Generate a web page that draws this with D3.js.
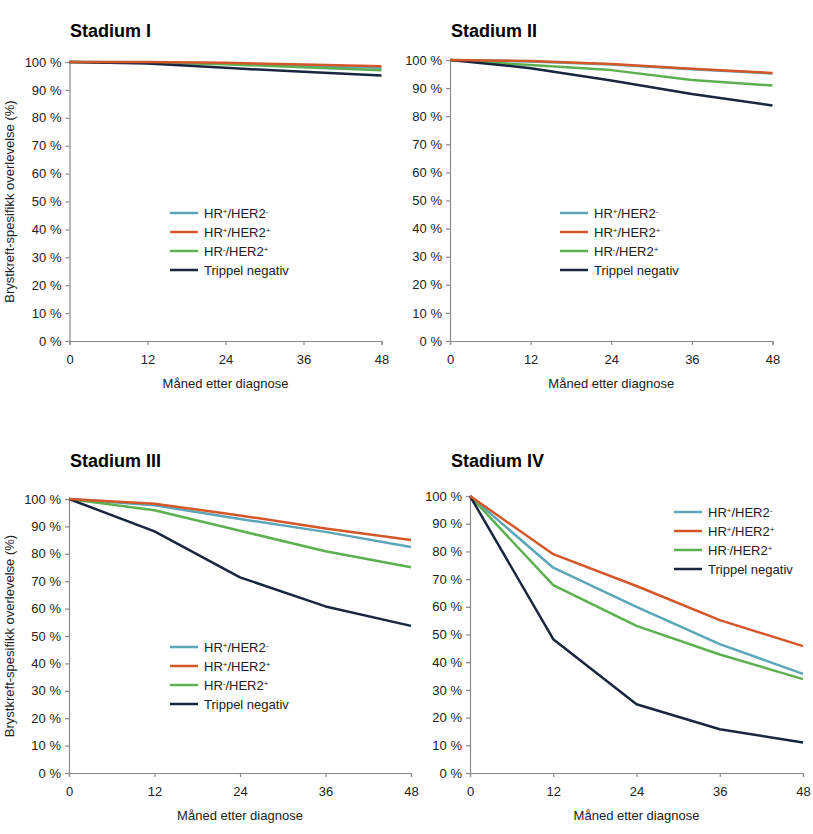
<!DOCTYPE html>
<html><head><meta charset="utf-8">
<script src="https://cdn.jsdelivr.net/npm/d3@7"></script>
<style>
body{margin:0;background:#fff;}
svg{display:block;font-family:"Liberation Sans",Arial,Helvetica,sans-serif;}
</style></head>
<body><svg id="c" width="813" height="834"></svg>
<script>
// ---- data ----
const months = [0, 12, 24, 36, 48];
const xTicks = [0, 12, 24, 36, 48];
const yTicks = [0, 10, 20, 30, 40, 50, 60, 70, 80, 90, 100];
const seriesLabels = ["HR+/HER2-", "HR+/HER2+", "HR-/HER2+", "Trippel negativ"];
const seriesColors = ["#5ba6b9", "#d4572a", "#5cb050", "#1a2540"];
const panelTitles = ["Stadium I", "Stadium II", "Stadium III", "Stadium IV"];
const xAxisTitle = "Måned etter diagnose";
const yAxisTitle = "Brystkreft-spesifikk overlevelse (%)";

// values per series, order: HR+/HER2-, HR+/HER2+, HR-/HER2+, Trippel negativ
const stadiumI = [
  [100, 99.9, 99.4, 98.6, 97.9],
  [100, 100, 99.7, 99.1, 98.5],
  [100, 99.8, 99.2, 98.1, 97.0],
  [100, 99.5, 97.9, 96.5, 95.2]
];
const stadiumII = [
  [100, 99.5, 98.4, 96.7, 95.2],
  [100, 99.6, 98.6, 96.9, 95.4],
  [100, 98.2, 96.4, 92.9, 90.9],
  [100, 97.1, 92.7, 87.9, 83.8]
];
const stadiumIII = [
  [100, 97.7, 92.7, 88.0, 82.5],
  [100, 98.3, 94.0, 89.2, 85.0],
  [100, 95.9, 88.4, 80.9, 75.1],
  [100, 88.2, 71.4, 60.8, 53.7]
];
const stadiumIV = [
  [100, 74.1, 60.0, 46.5, 35.8],
  [100, 79.0, 67.5, 55.2, 45.8],
  [100, 67.8, 53.1, 42.8, 33.9],
  [100, 48.3, 24.8, 15.8, 11.0]
];
const panelData = [stadiumI, stadiumII, stadiumIII, stadiumIV];

// ---- layout ----
const panels = [
  {x0: 69.5, x1: 381.5, yTop: 62, yBot: 341, tx: 70, ty: 37, yTitle: true, lx: 170, ly: 213},
  {x0: 450, x1: 772.5, yTop: 60, yBot: 341, tx: 451, ty: 36.5, yTitle: false, lx: 560, ly: 213},
  {x0: 69, x1: 411, yTop: 499, yBot: 773, tx: 70, ty: 466.5, yTitle: true, lx: 170, ly: 647},
  {x0: 470, x1: 803, yTop: 496, yBot: 773, tx: 451, ty: 466.5, yTitle: false, lx: 674, ly: 512}
];
const drawOrder = [0, 2, 3, 1];

const svg = d3.select("#c");
const fs = 13;

function writeLabel(sel, label) {
  if (label === "Trippel negativ") { sel.text(label); return; }
  const parts = label.split(/([+-])/).filter(s => s.length);
  parts.forEach(p => {
    if (p === "+" || p === "-") {
      sel.append("tspan").attr("baseline-shift", "super").attr("font-size", 8).text(p);
    } else {
      sel.append("tspan").text(p);
    }
  });
}

panels.forEach((p, i) => {
  const g = svg.append("g");
  const x = d3.scaleLinear().domain([0, 48]).range([p.x0, p.x1]);
  const y = d3.scaleLinear().domain([0, 100]).range([p.yBot, p.yTop]);

  g.append("text").attr("x", p.tx).attr("y", p.ty)
    .attr("font-size", 18).attr("font-weight", "bold").attr("fill", "#000")
    .text(panelTitles[i]);

  const xa = g.append("g").attr("transform", `translate(0,${p.yBot})`)
    .call(d3.axisBottom(x).tickValues(xTicks).tickSize(4).tickPadding(10).tickFormat(d3.format("d")));
  const ya = g.append("g").attr("transform", `translate(${p.x0},0)`)
    .call(d3.axisLeft(y).tickValues(yTicks).tickSize(4).tickPadding(4).tickFormat(d => d + " %"));
  [xa, ya].forEach(a => {
    a.select(".domain").attr("stroke", "#8a8a8a").attr("stroke-width", 1.2);
    a.selectAll(".tick line").attr("stroke", "#8a8a8a").attr("stroke-width", 1.2);
    a.selectAll(".tick text").attr("font-size", fs).attr("fill", "#222")
      .attr("font-family", '"Liberation Sans",Arial,sans-serif');
  });

  g.append("text").attr("x", (p.x0 + p.x1) / 2).attr("y", p.yBot + 47)
    .attr("text-anchor", "middle").attr("font-size", fs).attr("fill", "#222").text(xAxisTitle);

  if (p.yTitle) {
    g.append("text").attr("transform", `translate(14,${(p.yTop + p.yBot) / 2}) rotate(-90)`)
      .attr("text-anchor", "middle").attr("font-size", fs).attr("fill", "#222").text(yAxisTitle);
  }

  const line = d3.line().x((d, k) => x(months[k])).y(d => y(d));
  drawOrder.forEach(s => {
    g.append("path").datum(panelData[i][s]).attr("d", line)
      .attr("fill", "none").attr("stroke", seriesColors[s]).attr("stroke-width", 2.5)
      .attr("stroke-linejoin", "round");
  });

  const lg = g.append("g").attr("transform", `translate(${p.lx},${p.ly})`);
  seriesLabels.forEach((lab, s) => {
    const row = lg.append("g").attr("transform", `translate(0,${s * 19})`);
    row.append("line").attr("x1", 0).attr("x2", 28).attr("y1", 0).attr("y2", 0)
      .attr("stroke", seriesColors[s]).attr("stroke-width", 2.5);
    const t = row.append("text").attr("x", 34).attr("y", 0).attr("dy", "0.35em")
      .attr("font-size", fs).attr("fill", "#222");
    writeLabel(t, lab);
  });
});
</script></body></html>
